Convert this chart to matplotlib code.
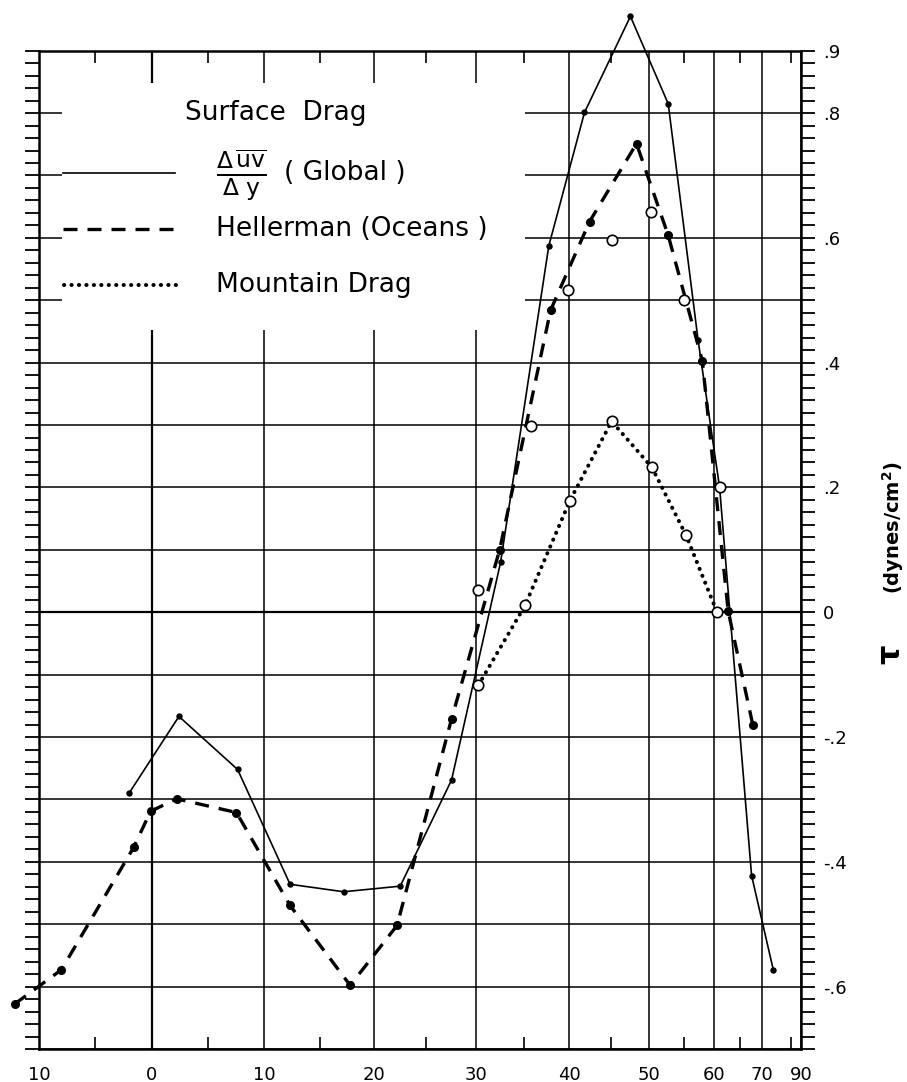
import numpy as np
import matplotlib
matplotlib.use("Agg")
import matplotlib.pyplot as plt
from matplotlib.patches import Rectangle

plt.rcParams['font.family'] = ['DejaVu Sans']
plt.rcParams['mathtext.fontset'] = 'dejavusans'

# ---------------- data (latitude in degrees, stress in dynes/cm^2) ----------------
global_lat = [-2.0, 2.4, 7.6, 12.3, 17.2, 22.5, 27.5, 32.5, 37.7, 41.8, 47.5, 52.7, 57.3, 61.0, 67.5, 73.2]
global_tau = [-0.290, -0.167, -0.252, -0.436, -0.448, -0.439, -0.269, 0.080, 0.587, 0.801, 0.955, 0.815, 0.436, 0.200, -0.422, -0.573]

heller_lat = [-12.2, -8.0, -1.6, -0.1, 2.2, 7.5, 12.3, 17.8, 22.2, 27.5, 32.4, 37.9, 42.4, 48.3, 52.7, 58.0, 62.6, 67.8]
heller_tau = [-0.628, -0.573, -0.377, -0.319, -0.299, -0.321, -0.470, -0.598, -0.502, -0.171, 0.100, 0.484, 0.626, 0.751, 0.604, 0.403, 0.002, -0.181]

open_lat = [30.2, 35.7, 39.9, 45.2, 50.3, 55.1, 61.0]
open_tau = [0.035, 0.298, 0.517, 0.596, 0.642, 0.500, 0.200]

mount_lat = [30.2, 35.1, 40.1, 45.1, 50.4, 55.4, 60.5]
mount_tau = [-0.117, 0.011, 0.179, 0.306, 0.232, 0.123, 0.001]

x_major = [-10, 0, 10, 20, 30, 40, 50, 60, 70, 90]
x_major_labels = ['10', '0', '10', '20', '30', '40', '50', '60', '70', '90']
x_minor = [-5, 5, 15, 25, 35, 45, 55, 65, 80]
y_major = [round(v, 2) for v in np.arange(-0.7, 0.91, 0.1)]
y_label_map = {0.9: '.9', 0.8: '.8', 0.6: '.6', 0.4: '.4', 0.2: '.2', 0.0: '0',
               -0.2: '-.2', -0.4: '-.4', -0.6: '-.6'}

# ---------------- figure ----------------
W, H = 907, 1082
fig = plt.figure(figsize=(W / 100, H / 100), dpi=100)
L, R, T, B = 39, 801, 50.7, 1049
ax = fig.add_axes([L / W, 1 - B / H, (R - L) / W, (B - T) / H])


def fwd(x):
    return np.sin(np.radians(x))


def inv(s):
    return np.degrees(np.arcsin(np.clip(s, -1, 1)))


ax.set_xscale('function', functions=(fwd, inv))
ax.set_xlim(-10, 90)
ax.set_ylim(-0.7, 0.9)

ax.set_xticks(x_major)
ax.set_xticklabels(x_major_labels)
ax.set_xticks(x_minor, minor=True)
ax.tick_params(axis='x', which='major', direction='in', length=0, labelsize=13, pad=12,
               top=True, bottom=True)
ax.tick_params(axis='x', which='minor', direction='in', length=8.6, width=1.2,
               top=True, bottom=True)

ax.set_yticks(y_major)
ax.set_yticklabels([y_label_map.get(round(v, 2), '') for v in y_major])
ax.set_yticks(np.arange(-0.7, 0.901, 0.02), minor=True)
ax.yaxis.set_minor_formatter(plt.NullFormatter())
ax.tick_params(axis='y', which='both', direction='out', length=10, width=1.3,
               left=True, right=True, labelleft=False, labelright=True,
               labelsize=13, pad=6)

ax.grid(which='major', color='black', linewidth=1.1)
ax.axhline(0, color='black', linewidth=1.6, zorder=1.6)
ax.axvline(0, color='black', linewidth=1.6, zorder=1.6)
for s in ax.spines.values():
    s.set_linewidth(1.8)

# white box behind the legend (gridlines blanked out)
ax.add_patch(Rectangle((0.030, 0.720), 0.608, 0.248, transform=ax.transAxes,
                       facecolor='white', edgecolor='none', zorder=1.8))

DOTTED = (0, (0.05, 1.8))

# ---------------- data lines ----------------
ax.plot(global_lat, global_tau, color='black', lw=1.2, marker='o', ms=3.6,
        zorder=3, clip_on=False)
ax.plot(heller_lat, heller_tau, color='black', lw=2.4, dashes=(4.2, 3.0),
        marker='o', ms=5.5, zorder=3, clip_on=False)
ax.plot(mount_lat, mount_tau, color='black', lw=2.9, linestyle=DOTTED,
        dash_capstyle='round', zorder=3, clip_on=False)
ax.plot(mount_lat, mount_tau, linestyle='none', marker='o', ms=7.5,
        mfc='white', mec='black', mew=1.2, zorder=4, clip_on=False)
ax.plot(open_lat, open_tau, linestyle='none', marker='o', ms=7.5,
        mfc='white', mec='black', mew=1.2, zorder=4, clip_on=False)


# ---------------- hand-made legend ----------------
def fx(px):
    return (px - L) / (R - L)


def fy(py):
    return (B - py) / (B - T)


ax.text(fx(185), fy(113), 'Surface  Drag', transform=ax.transAxes, fontsize=19,
        ha='left', va='center', zorder=5)
ax.plot([fx(63), fx(175)], [fy(173), fy(173)], transform=ax.transAxes,
        color='black', lw=1.2, zorder=5, clip_on=False)
ax.text(fx(216), fy(176), r'$\frac{\Delta\,\overline{\mathrm{uv}}}{\Delta\ \mathrm{y}}$',
        transform=ax.transAxes, fontsize=24, ha='left', va='center', zorder=5)
ax.text(fx(284), fy(173), '( Global )', transform=ax.transAxes, fontsize=19,
        ha='left', va='center', zorder=5)
ax.plot([fx(63), fx(175)], [fy(229), fy(229)], transform=ax.transAxes,
        color='black', lw=2.4, dashes=(4.2, 3.0), zorder=5, clip_on=False)
ax.text(fx(216), fy(229), 'Hellerman (Oceans )', transform=ax.transAxes, fontsize=19,
        ha='left', va='center', zorder=5)
ax.plot([fx(64), fx(177)], [fy(285), fy(285)], transform=ax.transAxes,
        color='black', lw=2.9, linestyle=DOTTED, dash_capstyle='round',
        zorder=5, clip_on=False)
ax.text(fx(216), fy(285), 'Mountain Drag', transform=ax.transAxes, fontsize=19,
        ha='left', va='center', zorder=5)

# y-axis title on the far right
fig.text(892 / W, 1 - 655 / H, r'$\mathbf{\tau}$', rotation=90,
         ha='center', va='center', fontsize=22, fontweight='bold')
fig.text(893 / W, 1 - 528 / H, r'(dynes/cm$^\mathbf{2}$)', rotation=90,
         ha='center', va='center', fontsize=14, fontweight='bold')

fig.savefig('out.png', dpi=100)
